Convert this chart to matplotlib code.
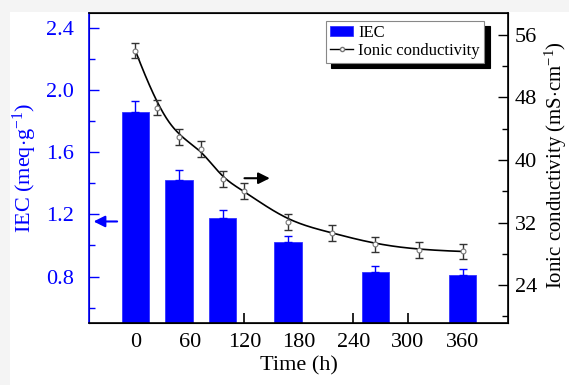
import matplotlib.pyplot as plt
import numpy as np
from matplotlib.patches import Rectangle
from matplotlib.ticker import MultipleLocator

plt.rcParams['font.family'] = ['Liberation Serif', 'DejaVu Serif']
plt.rcParams['mathtext.fontset'] = 'custom'
plt.rcParams['mathtext.rm'] = 'Liberation Serif'
plt.rcParams['mathtext.it'] = 'Liberation Serif:italic'

# IEC bars (left axis)
iec_time = [0, 48, 96, 168, 264, 360]
iec_val  = [1.86, 1.42, 1.18, 1.02, 0.83, 0.81]
iec_err  = [0.07, 0.065, 0.05, 0.04, 0.04, 0.04]

# ionic conductivity (right axis)
cond_time = [0, 24, 48, 72, 96, 120, 168, 216, 264, 312, 360]
cond_val  = [54.0, 46.7, 42.9, 41.4, 37.6, 36.0, 32.1, 30.7, 29.2, 28.5, 28.3]
cond_err  = [1.0] * len(cond_time)

x_ticks = [0, 60, 120, 180, 240, 300, 360]


def bspline(x, y, n=300, k=3):
    # clamped B-spline using the points as control points (like Origin's B-spline line)
    P = np.column_stack([x, y]).astype(float)
    m = len(P)
    knots = np.concatenate([np.zeros(k), np.linspace(0, 1, m - k + 1), np.ones(k)])
    t = np.linspace(0, 1, n)
    t[-1] = 1 - 1e-9
    N = np.zeros((n, len(knots) - 1))
    for i in range(len(knots) - 1):
        N[:, i] = (t >= knots[i]) & (t < knots[i + 1])
    for d in range(1, k + 1):
        Nn = np.zeros((n, len(knots) - 1 - d))
        for i in range(len(knots) - 1 - d):
            a = knots[i + d] - knots[i]
            b = knots[i + d + 1] - knots[i + 1]
            left = (t - knots[i]) / a * N[:, i] if a > 0 else 0
            right = (knots[i + d + 1] - t) / b * N[:, i + 1] if b > 0 else 0
            Nn[:, i] = left + right
        N = Nn
    C = N @ P
    return C[:, 0], C[:, 1]


fig = plt.figure(figsize=(5.69, 3.85), dpi=100, facecolor='#f4f4f4')
fig.patches.append(Rectangle((10 / 569, 0), 1, 1 - 12 / 385, transform=fig.transFigure,
                             facecolor='white', edgecolor='none', zorder=-10))
ax = fig.add_axes([89 / 569, 1 - 323 / 385, (508 - 89) / 569, (323 - 13) / 385])
ax2 = ax.twinx()

blue = '#0000ff'
bars = ax.bar(iec_time, iec_val, width=30, color=blue, edgecolor='#3333ff', linewidth=0.6,
              yerr=[np.zeros(len(iec_err)), iec_err], capsize=3,
              error_kw=dict(ecolor=blue, elinewidth=1.0, capthick=1.0), label='IEC', zorder=2)

sx, sy = bspline(cond_time, cond_val)
ax2.plot(sx, sy, color='black', lw=1.2, zorder=3)
ax2.errorbar(cond_time, cond_val, yerr=cond_err, fmt='none', ecolor='#333333',
             elinewidth=1.0, capsize=2.8, capthick=1.0, zorder=3)
ax2.plot(cond_time, cond_val, 'o', ms=3.5, mfc='white', mec='#777777', mew=0.8, zorder=4)

ax.set_xlim(-51, 410)
ax.set_ylim(0.5, 2.5)
ax2.set_ylim(19.15, 58.8)
ax.set_xticks(x_ticks)
ax.yaxis.set_minor_locator(MultipleLocator(0.2))
ax2.yaxis.set_minor_locator(MultipleLocator(4))
ax.set_yticks([0.8, 1.2, 1.6, 2.0, 2.4])
ax.set_yticklabels(['0.8', '1.2', '1.6', '2.0', '2.4'])
ax2.set_yticks([24, 32, 40, 48, 56])

ax.tick_params(axis='x', direction='in', length=7, width=1.2, labelsize=16, pad=7)
ax.tick_params(axis='y', which='major', direction='in', length=7, width=1.0,
               color=blue, labelcolor=blue, labelsize=16, pad=11)
ax.tick_params(axis='y', which='minor', direction='in', length=4, width=1.0, color=blue)
ax2.tick_params(axis='y', which='major', direction='in', length=7, width=1.0,
                labelsize=16, pad=5)
ax2.tick_params(axis='y', which='minor', direction='in', length=4, width=1.0)

for s in ['top', 'bottom', 'right']:
    ax2.spines[s].set_linewidth(1.2)
ax2.spines['left'].set_color(blue)
ax2.spines['left'].set_linewidth(1.2)

ax.set_xlabel('Time (h)', fontsize=16, labelpad=3)
ax.set_ylabel('IEC (meq$\\cdot$g$^{-1}$)', fontsize=16, color=blue)
ax.yaxis.set_label_coords(-0.119, 0.5)
ax2.set_ylabel('Ionic conductivity (mS$\\cdot$cm$^{-1}$)', fontsize=15)
ax2.yaxis.set_label_coords(1.084, 0.51)

# arrows pointing to the axes
ax.annotate('', xy=(-49, 1.155), xytext=(-17, 1.155),
            arrowprops=dict(arrowstyle='-|>', color=blue, lw=1.5, mutation_scale=17))
ax.annotate('', xy=(151, 1.434), xytext=(117, 1.434),
            arrowprops=dict(arrowstyle='-|>', color='black', lw=1.5, mutation_scale=17))

line_handle = plt.Line2D([], [], color='black', lw=1.0, marker='o', ms=3,
                         mfc='white', mec='#777777')
leg = ax.legend([bars, line_handle], ['IEC', 'Ionic conductivity'],
                loc='upper right', bbox_to_anchor=(0.943, 0.975), borderaxespad=0,
                fontsize=12, frameon=True, fancybox=False, handlelength=1.4,
                handleheight=0.6, handletextpad=0.3, borderpad=0.25, labelspacing=0.1,
                shadow={'color': 'black', 'alpha': 1, 'ox': 4, 'oy': -4})
leg.get_frame().set_edgecolor('#888888')
leg.get_frame().set_linewidth(0.8)
leg.set_zorder(10)

plt.savefig('out.png', dpi=100, facecolor=fig.get_facecolor())
